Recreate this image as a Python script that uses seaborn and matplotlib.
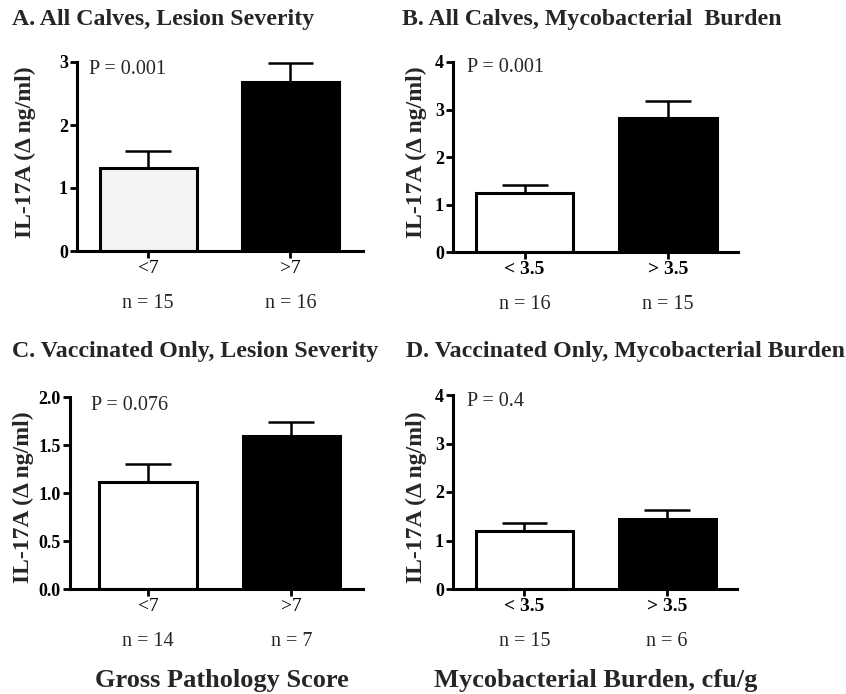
import matplotlib
matplotlib.use("Agg")
import matplotlib.pyplot as plt
import seaborn as sns
import pandas as pd

# ---- data ----
lesion_cats = ["<7", ">7"]
burden_cats = ["< 3.5", "> 3.5"]

a_means = [1.32, 2.68]
a_sem = [0.27, 0.30]
a_n = [15, 16]
a_p = "P = 0.001"

b_means = [1.24, 2.83]
b_sem = [0.17, 0.35]
b_n = [16, 15]
b_p = "P = 0.001"

c_means = [1.11, 1.59]
c_sem = [0.19, 0.15]
c_n = [14, 7]
c_p = "P = 0.076"

d_means = [1.20, 1.45]
d_sem = [0.16, 0.17]
d_n = [15, 6]
d_p = "P = 0.4"

titles = ["A. All Calves, Lesion Severity",
          "B. All Calves, Mycobacterial  Burden",
          "C. Vaccinated Only, Lesion Severity",
          "D. Vaccinated Only, Mycobacterial Burden"]
ylabel = "IL-17A (\u0394 ng/ml)"
xlabel_left = "Gross Pathology Score"
xlabel_right = "Mycobacterial Burden, cfu/g"

sns.set_style("ticks")
plt.rcParams['font.family'] = ['Liberation Serif', 'DejaVu Serif']

W, H = 846, 694
fig = plt.figure(figsize=(W / 100, H / 100), dpi=100)


def px_axes(x0, x1, ytop, ybot):
    return fig.add_axes([x0 / W, (H - ybot) / H, (x1 - x0) / W, (ybot - ytop) / H])


def panel(ax, cats, means, sem, ns, ptxt, colors, ylim, yticks, yfmt,
          xlim, xbold, ptxt_xy):
    df = pd.DataFrame({"group": cats, "value": means})
    sns.barplot(data=df, x="group", y="value", hue="group", palette=colors,
                width=0.68, edgecolor="black", linewidth=2.2, errorbar=None,
                legend=False, ax=ax, zorder=2)
    xs = list(range(len(cats)))
    tops = [m + s for m, s in zip(means, sem)]
    ax.vlines(xs, means, tops, color="black", lw=1.8, zorder=3)
    ax.hlines(tops, [x - 0.16 for x in xs], [x + 0.16 for x in xs],
              color="black", lw=1.8, zorder=3)
    ax.set_xlim(*xlim)
    ax.set_ylim(*ylim)
    ax.set_yticks(yticks)
    ax.set_yticklabels([yfmt.format(v) for v in yticks],
                       fontsize=13, fontweight="bold")
    ax.set_xticks(xs)
    ax.set_xticklabels(cats, fontsize=14,
                       fontweight="bold" if xbold else "normal")
    ax.set_xlabel("")
    ax.set_ylabel("")
    for sp in ["top", "right"]:
        ax.spines[sp].set_visible(False)
    for sp in ["left", "bottom"]:
        ax.spines[sp].set_linewidth(2.2)
        ax.spines[sp].set_color("black")
    ax.tick_params(axis="both", direction="out", length=5, width=2.0,
                   color="black", pad=1.5, labelcolor="black")
    ax.patch.set_alpha(0)
    for i, n in enumerate(ns):
        ax.annotate(f"n = {n}", xy=(i, 0), xycoords=ax.get_xaxis_transform(),
                    xytext=(0, -38), textcoords="offset points",
                    ha="center", va="center", fontsize=14.5)
    ax.annotate(ptxt, xy=ptxt_xy, xycoords="figure pixels",
                ha="left", va="center", fontsize=14.5)


axA = px_axes(77, 363, 62, 251)
axB = px_axes(453, 738, 62, 252)
axC = px_axes(70, 363, 397, 589)
axD = px_axes(453, 737, 395, 589)

panel(axA, lesion_cats, a_means, a_sem, a_n, a_p, ["#f4f4f4", "black"],
      (0, 3), [0, 1, 2, 3], "{:.0f}", (-0.5, 1.51), False, (89, H - 69))
panel(axB, burden_cats, b_means, b_sem, b_n, b_p, ["white", "black"],
      (0, 4), [0, 1, 2, 3, 4], "{:.0f}", (-0.5, 1.49), True, (467, H - 67))
panel(axC, lesion_cats, c_means, c_sem, c_n, c_p, ["white", "black"],
      (0, 2), [0, 0.5, 1.0, 1.5, 2.0], "{:.1f}", (-0.545, 1.5), False, (91, H - 405))
panel(axD, burden_cats, d_means, d_sem, d_n, d_p, ["white", "black"],
      (0, 4), [0, 1, 2, 3, 4], "{:.0f}", (-0.5, 1.49), True, (467, H - 402))

# titles
fig.text(12 / W, 1 - 20 / H, titles[0], fontsize=17.2, fontweight="bold", ha="left", va="center")
fig.text(402 / W, 1 - 20 / H, titles[1], fontsize=17.2, fontweight="bold", ha="left", va="center")
fig.text(12 / W, 1 - 352 / H, titles[2], fontsize=17.2, fontweight="bold", ha="left", va="center")
fig.text(406 / W, 1 - 352 / H, titles[3], fontsize=17.2, fontweight="bold", ha="left", va="center")

# y labels
for (x, y) in [(25, 152), (416, 152), (23, 497), (416, 497)]:
    fig.text(x / W, 1 - y / H, ylabel, rotation=90, fontsize=17,
             fontweight="bold", ha="center", va="center")

# bottom labels
fig.text(222 / W, 1 - 680 / H, xlabel_left, fontsize=19, fontweight="bold",
         ha="center", va="center")
fig.text(596 / W, 1 - 680 / H, xlabel_right, fontsize=19, fontweight="bold",
         ha="center", va="center")

fig.savefig("out.png", dpi=100, facecolor="white")
